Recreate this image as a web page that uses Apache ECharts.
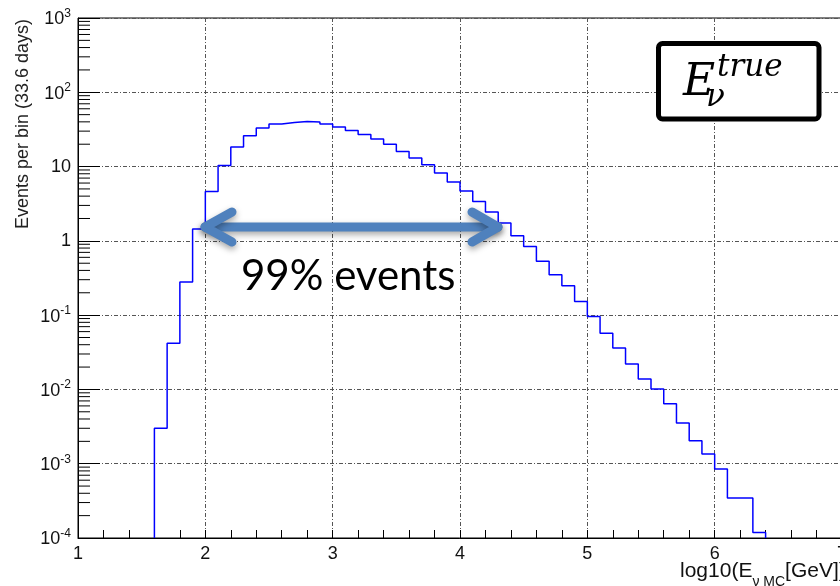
<!DOCTYPE html>
<html>
<head>
<meta charset="utf-8">
<script src="https://cdn.jsdelivr.net/npm/echarts@6/dist/echarts.min.js"></script>
<style>
html, body { margin: 0; padding: 0; background: #fff; }
#main { width: 840px; height: 586px; }
</style>
</head>
<body>
<div id="main"></div>
<script>
// histogram bins: left edge of first bin and bin width, in log10(E/GeV)
var binStart = 1.6;
var binWidth = 0.1;
// events per bin
var counts = [
    0.0030, 0.042, 0.28, 1.44, 4.6, 10.3, 18.3, 26, 33, 37.3,
    39.3, 40.5, 39.7, 37.3, 34, 30.6, 27, 23.5, 19.9, 16,
    13, 10.6, 8.2, 6.2, 4.7, 3.4, 2.44, 1.74, 1.17, 0.84,
    0.53, 0.35, 0.249, 0.153, 0.096, 0.057, 0.036, 0.022, 0.0138, 0.0101,
    0.0064, 0.00353, 0.00204, 0.00135, 0.00085, 0.000345, 0.000345, 0.000119
];
var xMin = 1, xMax = 7;
var yMin = 1e-4, yMax = 1e3;
var yTitle = 'Events per bin (33.6 days)';
var annotation = '99% events';

// step outline of the histogram
var histPoints = [[binStart, yMin]];
counts.forEach(function (c, i) {
    var lo = binStart + i * binWidth;
    histPoints.push([lo, c], [lo + binWidth, c]);
});
histPoints.push([binStart + counts.length * binWidth, yMin]);

// ROOT style minor ticks 2..9 in every decade
var yMinorTicks = [];
for (var e = -4; e < 3; e++) {
    for (var m = 2; m <= 9; m++) yMinorTicks.push(m * Math.pow(10, e));
}

var chart = echarts.init(document.getElementById('main'));

var gridLine = { color: '#555', width: 1, type: [4, 2, 1, 2] };
var labelFont = 'Liberation Sans, Arial, sans-serif';
var arrowColor = '#4f81bd';
var arrowStyle = {
    stroke: arrowColor, lineWidth: 9, lineCap: 'round', lineJoin: 'round',
    fill: null, shadowBlur: 6, shadowColor: 'rgba(0,0,0,0.35)', shadowOffsetY: 3
};

var option = {
    animation: false,
    backgroundColor: '#fff',
    grid: {
        left: 78, top: 18, bottom: 48, right: -2,
        outerBoundsMode: 'none',
        containLabel: false,
        show: true, borderColor: '#000', borderWidth: 1
    },
    xAxis: {
        type: 'value',
        min: xMin, max: xMax, interval: 1,
        axisLine: { show: true, lineStyle: { color: '#000' } },
        axisTick: { show: true, inside: true, length: 8, lineStyle: { color: '#000' } },
        minorTick: { show: true, splitNumber: 5, length: 8, lineStyle: { color: '#000' } },
        axisLabel: {
            margin: 7, color: '#111', fontSize: 18, fontFamily: labelFont,
            showMinLabel: true, showMaxLabel: true, hideOverlap: false
        },
        splitLine: { show: true, lineStyle: gridLine }
    },
    yAxis: {
        type: 'log', logBase: 10,
        min: yMin, max: yMax, interval: 1,
        axisLine: { show: true, lineStyle: { color: '#000' } },
        axisTick: { show: true, inside: true, length: 22, lineStyle: { color: '#000' } },
        axisLabel: {
            margin: 7, color: '#111', fontSize: 17, fontFamily: labelFont,
            showMinLabel: true, showMaxLabel: true,
            formatter: function (v) {
                var p = Math.round(Math.log10(v));
                if (p === 0) return '{b|1}';
                if (p === 1) return '{b|10}';
                return '{b|10}{s|' + p + '}';
            },
            rich: {
                b: { fontSize: 18, fontFamily: labelFont, color: '#111', verticalAlign: 'bottom' },
                s: { fontSize: 12, fontFamily: labelFont, color: '#111', verticalAlign: 'bottom', padding: [0, 0, 9, 0] }
            }
        },
        splitLine: { show: true, lineStyle: gridLine }
    },
    series: [
        {
            type: 'custom',
            silent: true,
            clip: false,
            z: 3,
            data: [[xMin, yMin]],
            renderItem: function (params, api) {
                var kids = yMinorTicks.map(function (v) {
                    var p = api.coord([xMin, v]);
                    return {
                        type: 'line',
                        shape: { x1: p[0], y1: p[1], x2: p[0] + 12, y2: p[1] },
                        style: { stroke: '#000', lineWidth: 1 }
                    };
                });
                return { type: 'group', children: kids };
            }
        },
        {
            type: 'line',
            data: histPoints,
            showSymbol: false,
            symbol: 'none',
            clip: true,
            z: 4,
            lineStyle: { color: '#0000ff', width: 1.5 }
        }
    ],
    graphic: [
        {
            type: 'text', x: 23, y: 124, rotation: Math.PI / 2,
            style: {
                text: yTitle, fill: '#222', font: '18px ' + labelFont,
                align: 'center', verticalAlign: 'middle'
            }
        },
        {
            type: 'text', x: 680, y: 575,
            style: {
                text: '{m|log10(E}{s|ν MC}{m|[GeV])}',
                align: 'left', verticalAlign: 'middle',
                rich: {
                    m: { fontSize: 21, fontFamily: labelFont, fill: '#111', verticalAlign: 'bottom', padding: [0, 0, 8, 0] },
                    s: { fontSize: 14, fontFamily: labelFont, fill: '#111', verticalAlign: 'bottom' }
                }
            }
        },
        // double headed arrow
        { type: 'polyline', z: 10, shape: { points: [[205, 227], [498, 227]] }, style: arrowStyle },
        { type: 'polyline', z: 10, shape: { points: [[232, 212], [205, 227], [232, 242]] }, style: arrowStyle },
        { type: 'polyline', z: 10, shape: { points: [[472, 212], [498, 227], [472, 242]] }, style: arrowStyle },
        {
            type: 'text', x: 241, y: 276, z: 10,
            style: {
                text: annotation, fill: '#000', font: '42px Lato, sans-serif',
                align: 'left', verticalAlign: 'middle'
            }
        },
        // label box
        {
            type: 'rect', z: 10,
            shape: { x: 658.5, y: 43.5, width: 160.5, height: 75.5, r: 4 },
            style: { fill: '#fff', stroke: '#000', lineWidth: 5 }
        },
        {
            type: 'text', x: 683, y: 84, z: 11,
            style: { text: 'E', fill: '#000', font: 'italic 44px DejaVu Serif, serif', verticalAlign: 'middle' }
        },
        {
            type: 'text', x: 717, y: 68, z: 11,
            style: { text: 'true', fill: '#000', font: 'italic 31px DejaVu Serif, serif', verticalAlign: 'middle' }
        },
        {
            type: 'text', x: 706, y: 98, z: 11,
            style: { text: 'ν', fill: '#000', font: 'italic 31px DejaVu Serif, serif', verticalAlign: 'middle' }
        }
    ]
};

chart.setOption(option);
</script>
</body>
</html>
